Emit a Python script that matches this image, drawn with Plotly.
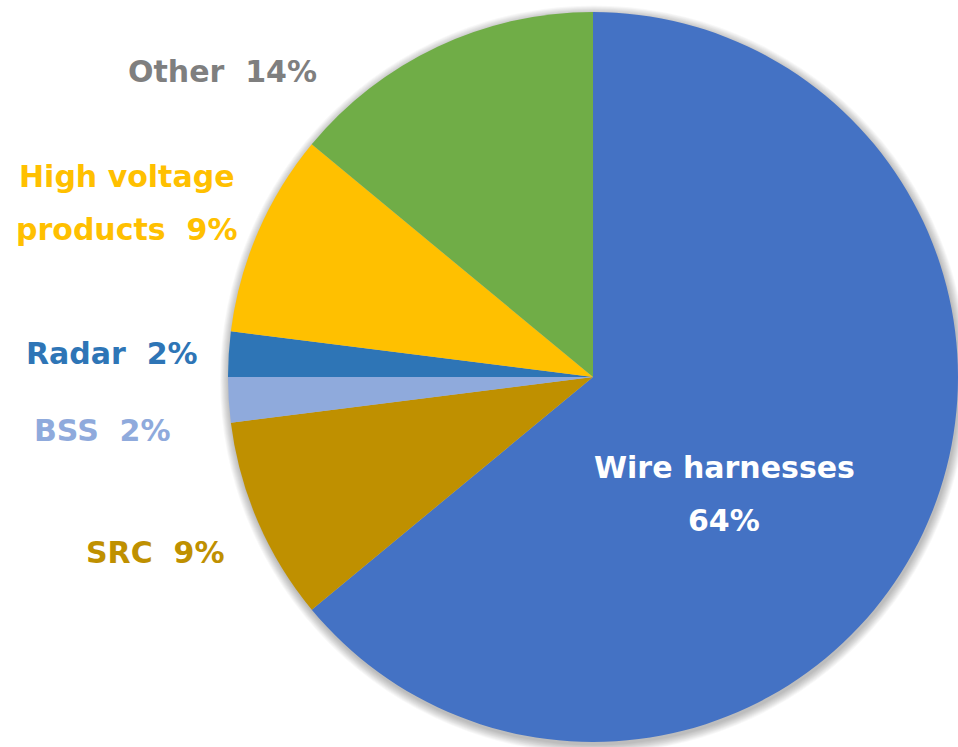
import plotly.graph_objects as go

# Sales composition by product line (%)
categories = ["Wire harnesses", "SRC", "BSS", "Radar", "High voltage\nproducts", "Other"]
shares = [64, 9, 2, 2, 9, 14]
slice_colors = ["#4472C4", "#BF9000", "#8FAADC", "#2E75B6", "#FFC000", "#70AD47"]
label_colors = ["#FFFFFF", "#BF9000", "#8FAADC", "#2E75B6", "#FFC000", "#7F7F7F"]

W, H = 958, 747
CX, CY, R = 593, 377, 365  # pie centre and radius in pixels

FONT = "DejaVu Sans"
FSIZE = 30

fig = go.Figure()

fig.add_trace(go.Pie(
    labels=[c.replace("\n", " ") for c in categories],
    values=shares,
    marker=dict(colors=slice_colors, line=dict(width=0)),
    sort=False,
    direction="clockwise",
    rotation=0,
    textinfo="none",
    hoverinfo="label+percent",
    showlegend=False,
    domain=dict(x=[(CX - R) / W, (CX + R) / W], y=[1 - (CY + R) / H, 1 - (CY - R) / H]),
))

# soft drop shadow around the pie
shapes = []
for k in range(1, 11):
    rr = R + k * 0.9
    ox, oy = 1.0, 2.5
    shapes.append(dict(
        type="circle", xref="paper", yref="paper", layer="below",
        x0=(CX + ox - rr) / W, x1=(CX + ox + rr) / W,
        y0=1 - (CY + oy + rr) / H, y1=1 - (CY + oy - rr) / H,
        fillcolor="rgba(0,0,0,0.028)", line=dict(width=0),
    ))

# label anchor points (pixel centres of the first text line)
label_pos = {
    "Wire harnesses": (724, 467),
    "SRC": (155, 552),
    "BSS": (102, 430),
    "Radar": (112, 353),
    "High voltage\nproducts": (127, 176),
    "Other": (222, 72),
}
LINE_GAP = 53

annotations = []
for cat, val, col in zip(categories, shares, label_colors):
    x, y = label_pos[cat]
    if cat == "Wire harnesses":
        lines = [cat, f"{val}%"]
    else:
        parts = cat.split("\n")
        parts[-1] = f"{parts[-1]}\u00a0\u00a0{val}%"
        lines = parts
    for i, line in enumerate(lines):
        annotations.append(dict(
            x=x / W, y=1 - (y + i * LINE_GAP) / H, xref="paper", yref="paper",
            text=f"<b>{line}</b>", showarrow=False,
            xanchor="center", yanchor="middle",
            font=dict(family=FONT, size=FSIZE, color=col),
        ))

fig.update_layout(
    width=W, height=H,
    margin=dict(l=0, r=0, t=0, b=0),
    paper_bgcolor="white", plot_bgcolor="white",
    shapes=shapes, annotations=annotations,
)

fig.write_html("out.html")
